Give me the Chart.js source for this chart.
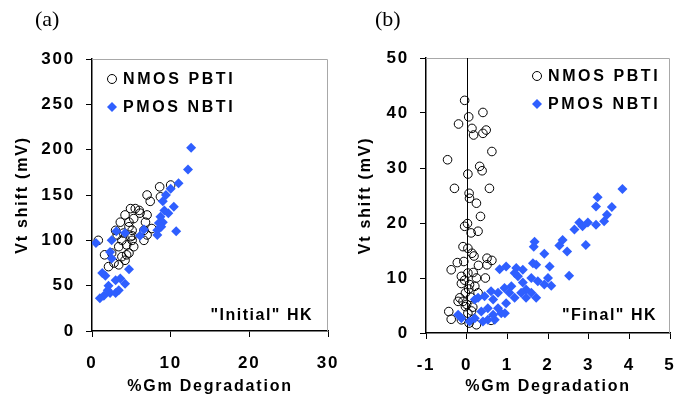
<!DOCTYPE html>
<html>
<head>
<meta charset="utf-8">
<script src="https://cdn.jsdelivr.net/npm/chart.js@4"></script>
<style>
  body { margin: 0; background: #fff; }
  #wrap { position: relative; width: 686px; height: 400px; overflow: hidden; }
  .panel { position: absolute; top: 0; width: 343px; height: 400px; }
</style>
</head>
<body>
<div id="wrap">
  <div class="panel" style="left:0"><canvas id="chartA"></canvas></div>
  <div class="panel" style="left:343px"><canvas id="chartB"></canvas></div>
</div>
<script>
// (a) "Initial" HK
const pbtiInitGm = [0.8,1.6,2.1,3.4,2.5,3.4,3.8,4.4,4.4,3.8,5.3,4.9,5.1,4.7,3.6,4.2,4.9,5.5,6.0,5.3,6.8,7.0,7.0,7.4,8.6,10.0,8.7,6.6,7.6,7.0,6.6,3.2,3.0,4.0,5.1,4.7,4.2,2.8,4.7,6.1,5.1];
const pbtiInitVt = [100,84,71,73,86,93,100,95,84,82,93,104,111,120,120,128,135,135,133,124,120,128,150,143,159,161,148,111,113,106,100,106,111,108,100,86,78,75,115,130,105];
const nbtiInitGm = [12.6,12.2,11.0,10.0,9.4,9.0,10.4,9.7,8.7,8.5,8.3,8.3,10.7,6.6,6.1,4.2,3.1,2.5,0.5,2.3,2.5,4.7,1.7,3.6,3.0,4.2,2.1,2.3,3.0,1.5,1.0,2.0,1.3,3.4,9.2,9.0,8.8];
const nbtiInitVt = [202,178,163,157,150,143,137,130,126,119,111,106,110,112,105,108,110,100,97,87,80,68,61,58,56,52,50,42,42,39,36,45,64,45,133,120,115];

// (b) "Final" HK
const pbtiFinalGm = [-0.05,0.4,0.05,-0.2,0.13,0.48,0.17,0.4,0.62,-0.47,0.32,0.38,0.03,-0.3,0.56,0.06,0.07,0.24,0.34,0.02,-0.05,0.11,0.28,-0.09,0.03,0.13,-0.38,-0.23,-0.07,0.5,0.62,0.5,0.29,-0.13,0.24,0.46,0.07,0.2,-0.03,-0.17,-0.21,-0.09,0.28,-0.44,-0.38,-0.13,0.06,0.24,0.6,0.15,0.03,-0.03,0.1,0.03,0.16,-0.13,0.0,0.05,-0.05,0.12,0.18];
const pbtiFinalVt = [42.3,40.1,39.3,38,37.2,36.9,36,36.3,33,31.5,30.3,29.5,28.9,26.3,26.3,25.4,24.5,23.6,21.2,19.9,19.4,18.2,18.5,15.7,15.4,14.5,11.5,12.8,13,13.6,13.2,12.4,12.3,10.3,10,10,8.8,8.5,7.3,6.4,5.75,5.75,7.3,3.9,2.5,2.4,1.8,1.5,2.3,4.7,3.6,4.8,6.5,10.9,11,9,5.2,8,9.6,4,14];
const nbtiFinalGm = [3.83,3.22,3.18,3.57,3.45,3.38,3.18,2.98,2.77,2.85,2.65,2.93,2.36,2.28,2.47,1.67,1.65,1.71,1.63,1.91,2.04,2.52,2.0,2.08,1.75,1.59,1.38,1.26,1.18,1.22,0.97,0.81,1.71,1.59,1.46,1.1,0.93,1.05,0.77,0.6,0.44,0.28,0.2,1.18,0.97,0.77,0.52,0.36,0.85,0.94,0.52,0.4,0.2,0.07,-0.21,-0.13,0.69,0.65,1.34,1.46,1.91,0.65,1.38];
const nbtiFinalVt = [26.2,24.7,23,22.9,21.5,20.3,19.7,20.1,20.1,19.4,18.8,16,16.9,15.9,14.8,16.6,15.7,12.4,12.7,14.4,12.1,10.4,10,8.6,9.4,10,9.2,10.3,10.9,11.8,12.1,11.6,6.4,7.3,7.9,8.5,8.2,7.3,7.3,7.6,6.7,6.4,6.1,6.4,5.4,4.5,4.5,3.9,3.6,3.6,2.4,2.1,2.7,2.1,3.3,2.7,2.4,3.3,7.3,6.4,8.8,6.1,11.5];

const seriesNames = ['NMOS PBTI', 'PMOS NBTI'];
const BLUE = '#2f5fff';
const SANS = '"Liberation Sans", Arial, sans-serif';

const pts = (xs, ys) => xs.map((x, i) => ({ x: x, y: ys[i] }));

// the axis text is set a little wide
function spacing(chart) {
    chart.ctx.letterSpacing = '1.8px';
}

// frame, zero line, in-plot legend and labels
const decor = {
    id: 'decor',
    beforeLayout: spacing,
    beforeDraw: spacing,
    beforeDatasetsDraw(chart, args, o) {
        const { ctx, chartArea: a } = chart;
        ctx.save();
        ctx.strokeStyle = '#a8a8a8';
        ctx.lineWidth = 1;
        ctx.beginPath();
        ctx.moveTo(a.left, a.top + 0.5);
        ctx.lineTo(a.right - 0.5, a.top + 0.5);
        ctx.lineTo(a.right - 0.5, a.bottom);
        ctx.stroke();
        if (o.zeroLine) {
            const x = Math.round(chart.scales.x.getPixelForValue(0)) + 0.5;
            ctx.strokeStyle = '#000';
            ctx.beginPath();
            ctx.moveTo(x, a.top);
            ctx.lineTo(x, a.bottom);
            ctx.stroke();
        }
        ctx.restore();
    },
    afterDraw(chart, args, o) {
        const { ctx, chartArea: a } = chart;
        ctx.save();
        ctx.letterSpacing = '0px';
        ctx.fillStyle = '#000';
        ctx.font = '22px "Liberation Serif", "Times New Roman", serif';
        ctx.textBaseline = 'alphabetic';
        ctx.fillText(o.tag, o.tagX, 26);

        ctx.letterSpacing = '2.6px';
        ctx.font = 'bold 16px ' + SANS;
        const lx = a.left + o.legX;
        // circle entry
        let y = a.top + o.legY;
        ctx.strokeStyle = '#000';
        ctx.lineWidth = 1;
        ctx.beginPath();
        ctx.arc(lx, y, 4.5, 0, Math.PI * 2);
        ctx.stroke();
        ctx.textBaseline = 'middle';
        ctx.fillText(seriesNames[0], lx + 11, y + 1);
        // diamond entry
        y += 28;
        ctx.fillStyle = BLUE;
        ctx.beginPath();
        ctx.moveTo(lx, y - 5);
        ctx.lineTo(lx + 5, y);
        ctx.lineTo(lx, y + 5);
        ctx.lineTo(lx - 5, y);
        ctx.closePath();
        ctx.fill();
        ctx.fillStyle = '#000';
        ctx.fillText(seriesNames[1], lx + 11, y + 1);

        ctx.letterSpacing = '1.5px';
        ctx.textAlign = 'right';
        ctx.textBaseline = 'alphabetic';
        ctx.fillText(o.note, a.right - o.noteR, a.bottom - o.noteB);
        ctx.restore();
    }
};

function makeChart(id, cfg) {
    const tickFont = { family: SANS, size: 17, weight: 'bold' };
    const titleFont = { family: SANS, size: 16, weight: 'bold' };
    return new Chart(document.getElementById(id), {
        type: 'scatter',
        data: {
            datasets: [
                {
                    label: seriesNames[0],
                    data: cfg.nmos,
                    pointStyle: 'circle',
                    pointRadius: 4.3,
                    borderColor: '#000',
                    backgroundColor: 'rgba(0,0,0,0)',
                    borderWidth: 1,
                    order: 2
                },
                {
                    label: seriesNames[1],
                    data: cfg.pmos,
                    pointStyle: 'rectRot',
                    pointRadius: 5,
                    backgroundColor: BLUE,
                    borderColor: BLUE,
                    borderWidth: 0,
                    order: 1
                }
            ]
        },
        options: {
            responsive: true,
            maintainAspectRatio: false,
            animation: false,
            layout: { padding: { left: 0, top: cfg.top, right: cfg.right, bottom: 0 } },
            plugins: {
                legend: { display: false },
                tooltip: { enabled: false },
                decor: cfg.decor
            },
            scales: {
                x: {
                    type: 'linear',
                    min: cfg.xMin,
                    max: cfg.xMax,
                    ticks: { stepSize: cfg.xStep, color: '#000', font: tickFont, padding: 16, maxRotation: 0, autoSkip: false },
                    grid: { drawOnChartArea: false, tickLength: 6, tickColor: '#000' },
                    border: { color: '#000', width: 1.5 },
                    title: { display: true, text: '%Gm Degradation', color: '#000', font: titleFont, padding: { top: 2, bottom: 4 } },
                    afterFit(s) {
                        s.height = cfg.xH;
                        // end labels may hang past the plot edge
                        s.paddingLeft = 0;
                        s.paddingRight = 0;
                    }
                },
                y: {
                    type: 'linear',
                    min: cfg.yMin,
                    max: cfg.yMax,
                    ticks: { stepSize: cfg.yStep, color: '#000', font: tickFont, padding: 11, autoSkip: false },
                    grid: { drawOnChartArea: false, tickLength: 6, tickColor: '#000' },
                    border: { color: '#000', width: 1.5 },
                    title: { display: true, text: 'Vt shift (mV)', color: '#000', font: titleFont, padding: { top: 13, bottom: 0 } },
                    afterFit(s) {
                        s.width = cfg.yW;
                        s.paddingTop = 0;
                        s.paddingBottom = 0;
                    }
                }
            }
        },
        plugins: [decor]
    });
}

makeChart('chartA', {
    nmos: pts(pbtiInitGm, pbtiInitVt),
    pmos: pts(nbtiInitGm, nbtiInitVt),
    xMin: 0, xMax: 30, xStep: 10,
    yMin: 0, yMax: 300, yStep: 50,
    top: 59, right: 15, yW: 92, xH: 69,
    decor: { tag: '(a)', tagX: 35, legX: 20, legY: 20, note: '"Initial" HK', noteR: 15, noteB: 11, zeroLine: false }
});

makeChart('chartB', {
    nmos: pts(pbtiFinalGm, pbtiFinalVt),
    pmos: pts(nbtiFinalGm, nbtiFinalVt),
    xMin: -1, xMax: 5, xStep: 1,
    yMin: 0, yMax: 50, yStep: 10,
    top: 58, right: 16, yW: 83, xH: 67,
    decor: { tag: '(b)', tagX: 32, legX: 111, legY: 18, note: '"Final" HK', noteR: 13, noteB: 13, zeroLine: true }
});
</script>
</body>
</html>
